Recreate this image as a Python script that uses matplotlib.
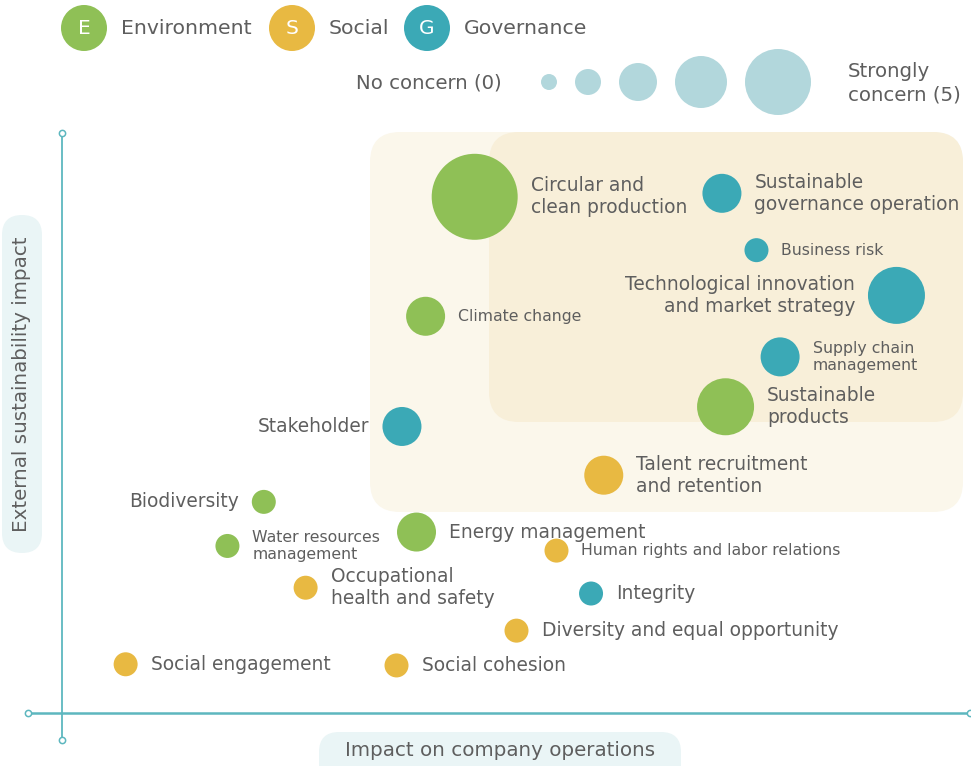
import matplotlib
matplotlib.use("Agg")
import matplotlib.pyplot as plt
from matplotlib.patches import FancyBboxPatch

plt.rcParams['font.family'] = ['DejaVu Sans']

# ---------------- data ----------------
topics = [
    "Circular and\nclean production",
    "Sustainable\ngovernance operation",
    "Business risk",
    "Technological innovation\nand market strategy",
    "Climate change",
    "Supply chain\nmanagement",
    "Sustainable\nproducts",
    "Stakeholder",
    "Talent recruitment\nand retention",
    "Biodiversity",
    "Water resources\nmanagement",
    "Energy management",
    "Human rights and labor relations",
    "Occupational\nhealth and safety",
    "Integrity",
    "Diversity and equal opportunity",
    "Social engagement",
    "Social cohesion",
]
pillar = ["E", "G", "G", "G", "E", "G", "E", "G", "S",
          "E", "E", "E", "S", "S", "G", "S", "S", "S"]
impact_operations = [2.27, 3.63, 3.82, 4.59, 2.00, 3.95, 3.65, 1.87, 2.98,
                     1.11, 0.91, 1.95, 2.72, 1.34, 2.91, 2.50, 0.35, 1.84]
external_impact = [4.45, 4.48, 3.99, 3.60, 3.42, 3.07, 2.64, 2.47, 2.05,
                   1.82, 1.44, 1.56, 1.40, 1.08, 1.03, 0.71, 0.42, 0.41]
concern_tier = [5, 3, 2, 4, 3, 3, 4, 3, 3, 2, 2, 3, 2, 2, 2, 2, 2, 2]
label_side = ["r", "r", "r", "l", "r", "r", "r", "l", "r",
              "l", "r", "r", "r", "r", "r", "r", "r", "r"]
label_small = [False, False, True, False, True, True, False, False, False,
               False, True, False, True, False, False, False, False, False]

categories = ["Environment", "Social", "Governance"]
category_codes = ["E", "S", "G"]
concern_levels = [1, 2, 3, 4, 5]
concern_low_label = "No concern (0)"
concern_high_label = "Strongly\nconcern (5)"
x_label = "Impact on company operations"
y_label = "External sustainability impact"

# ---------------- styles ----------------
COLORS = {"E": "#8FC056", "S": "#E8B942", "G": "#3BA9B6"}
TIER_R = {2: 12, 3: 19.5, 4: 28.5, 5: 43}          # px radius
LEGEND_R = {1: 8, 2: 13, 3: 19, 4: 26, 5: 33}      # px radius
TEXT = "#5E5E5E"
AXIS = "#5DB7BF"
W, H, DPI = 971, 766, 100
PT = 72.0 / DPI
FS_BIG = 13.4
FS_SMALL = 11.3

fig = plt.figure(figsize=(W / DPI, H / DPI), dpi=DPI)
ov = fig.add_axes([0, 0, 1, 1])
ov.set_xlim(0, W)
ov.set_ylim(H, 0)
ov.axis("off")
ov.set_zorder(0)

main = fig.add_axes([62 / W, (H - 713) / H, (W - 62) / W, (713 - 133) / H])
main.set_xlim(0, 5)
main.set_ylim(0, 5)
main.axis("off")
main.patch.set_alpha(0)
main.set_zorder(1)

# zone backgrounds
ov.add_patch(FancyBboxPatch((370, 132), 593, 380,
                            boxstyle="round,pad=0,rounding_size=30",
                            fc="#FBF7EB", ec="none", zorder=0))
ov.add_patch(FancyBboxPatch((489, 132), 474, 290,
                            boxstyle="round,pad=0,rounding_size=30",
                            fc="#F8EFD9", ec="none", zorder=0.5))

# axis label pills
ov.add_patch(FancyBboxPatch((2, 215), 40, 338,
                            boxstyle="round,pad=0,rounding_size=20",
                            fc="#EAF5F6", ec="none"))
ov.add_patch(FancyBboxPatch((319, 732), 362, 70,
                            boxstyle="round,pad=0,rounding_size=20",
                            fc="#EAF5F6", ec="none", clip_on=True))
ov.text(22, 384, y_label, rotation=90, ha="center", va="center",
        fontsize=14.3, color=TEXT)
ov.text(500, 751, x_label, ha="center", va="center", fontsize=14.3, color=TEXT)

# axis lines
ov.plot([62, 62], [133, 740], color=AXIS, lw=1.3, zorder=2)
ov.plot([28, 971], [713, 713], color=AXIS, lw=1.8, zorder=2)
ov.plot([62, 62, 28, 970], [133, 740, 713, 713], ls="none", marker="o",
        ms=4.5, mfc="white", mec=AXIS, mew=1.1, zorder=3)

# ESG legend
esg_x = [84, 292, 427]
for code, name, cx in zip(category_codes, categories, esg_x):
    ov.scatter([cx], [28], s=(2 * 23 * PT) ** 2, color=COLORS[code],
               edgecolors="none", zorder=3)
    ov.text(cx, 29, code, color="white", ha="center", va="center", fontsize=14.5,
            zorder=4)
    ov.text(cx + 37, 29, name, color=TEXT, ha="left", va="center", fontsize=14.7)

# concern size legend
cx = 549
prev_r = None
for lv in concern_levels:
    r = LEGEND_R[lv]
    if prev_r is not None:
        cx = cx + prev_r + 18 + r
    ov.scatter([cx], [82], s=(2 * r * PT) ** 2, color="#B2D7DC",
               edgecolors="none", zorder=3)
    prev_r = r
ov.text(502, 83, concern_low_label, ha="right", va="center", fontsize=14.2,
        color=TEXT)
ov.text(848, 83, concern_high_label, ha="left", va="center", fontsize=14.2,
        color=TEXT, linespacing=1.3)

# topic bubbles
for name, p, x, y, t, side, small in zip(topics, pillar, impact_operations,
                                         external_impact, concern_tier,
                                         label_side, label_small):
    r = TIER_R[t]
    main.scatter([x], [y], s=(2 * r * PT) ** 2, color=COLORS[p],
                 edgecolors="none", zorder=3, clip_on=False)
    off = (r + 13) * PT
    fs = FS_SMALL if small else FS_BIG
    if side == "r":
        main.annotate(name, (x, y), xytext=(off, 0), textcoords="offset points",
                      ha="left", va="center", fontsize=fs,
                      color=TEXT, linespacing=1.2, multialignment="left",
                      annotation_clip=False)
    else:
        main.annotate(name, (x, y), xytext=(-off, 0), textcoords="offset points",
                      ha="right", va="center", fontsize=fs,
                      color=TEXT, linespacing=1.2, multialignment="right",
                      annotation_clip=False)

fig.savefig("out.png", dpi=DPI)
